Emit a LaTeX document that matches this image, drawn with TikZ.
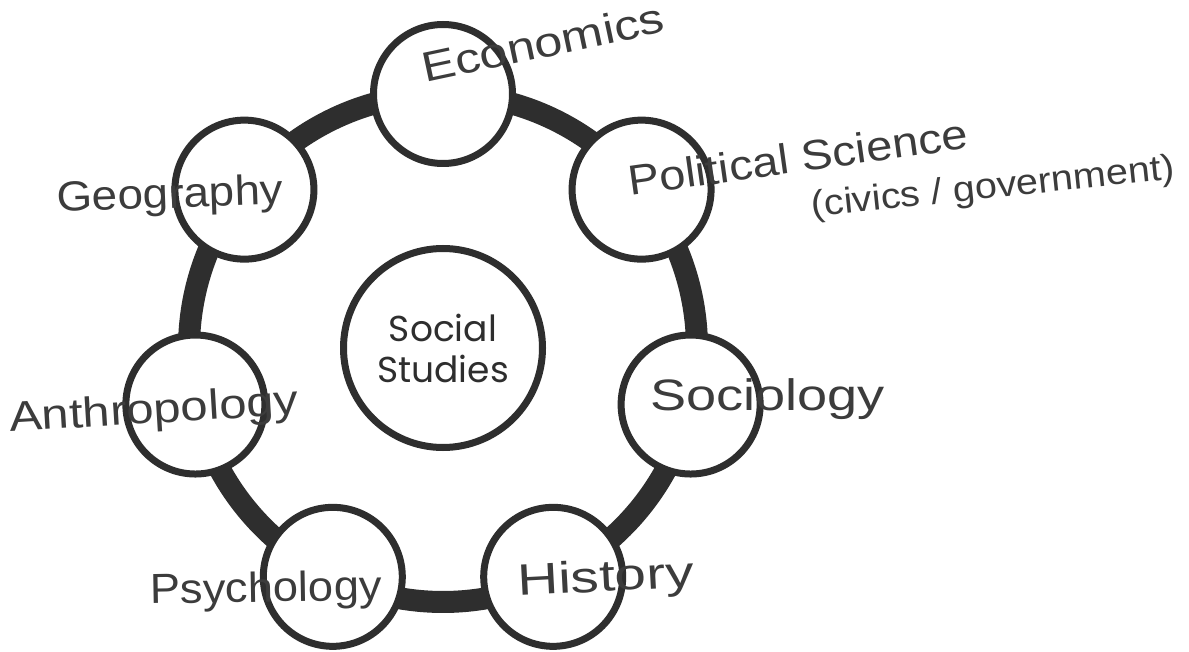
\documentclass[tikz,border=0pt]{standalone}
\usepackage{fontspec}
\setmainfont{Liberation Sans}
\newfontfamily\geofont{Poppins}
\usetikzlibrary{calc,backgrounds}
\definecolor{ink}{HTML}{2E2E2E}
\definecolor{pen}{HTML}{3C3C3C}
\begin{document}
\begin{tikzpicture}[x=1pt,y=-1pt,
  ring/.style={draw=ink, line width=22pt},
  topic/.style={circle, draw=ink, line width=7pt, fill=white, minimum size=139pt, inner sep=0pt},
  hub/.style={circle, draw=ink, line width=7pt, fill=white, minimum size=199pt, inner sep=0pt,
    font=\geofont\fontsize{36}{41}\selectfont, align=center, text=ink},
  hand/.style={anchor=base west, inner sep=0pt, text=pen, font=\fontsize{#1}{#1}\selectfont},
  hand/.default=42]
\path[use as bounding box] (0,0) rectangle (1189,652);
% hub and topics
\node[hub] (ss) at (443,348) {Social\\Studies};
\node[topic] (eco) at ($(ss.center)+(-90:254)$) {};
\node[topic] (pol) at ($(ss.center)+(-38.5714:254)$) {};
\node[topic] (soc) at ($(ss.center)+(12.8571:254)$) {};
\node[topic] (his) at ($(ss.center)+(64.2857:254)$) {};
\node[topic] (psy) at ($(ss.center)+(115.7143:254)$) {};
\node[topic] (ant) at ($(ss.center)+(167.1429:254)$) {};
\node[topic] (geo) at ($(ss.center)+(218.5714:254)$) {};
% ring connectors behind the circles
\begin{pgfonlayer}{background}
\fill[white] (0,0) rectangle (1189,652);
\draw[ring] (eco.center) arc[start angle=-90, end angle=-38.5714, radius=254];
\draw[ring] (pol.center) arc[start angle=-38.5714, end angle=12.8571, radius=254];
\draw[ring] (soc.center) arc[start angle=12.8571, end angle=64.2857, radius=254];
\draw[ring] (his.center) arc[start angle=64.2857, end angle=115.7143, radius=254];
\draw[ring] (psy.center) arc[start angle=115.7143, end angle=167.1429, radius=254];
\draw[ring] (ant.center) arc[start angle=167.1429, end angle=218.5714, radius=254];
\draw[ring] (geo.center) arc[start angle=218.5714, end angle=270, radius=254];
\end{pgfonlayer}
% handwritten labels
\node[hand, rotate=12, xscale=1.2] (leco) at (425,83) {Economics};
\node[hand, rotate=8, xscale=1.12] (lpol) at (630,196) {Political Science};
\node[hand=36, rotate=6, xscale=1.1] (lciv) at (812,217) {(civics / government)};
\node[hand=44, xscale=1.23] (lsoc) at (650,410) {Sociology};
\node[hand=44, rotate=3, xscale=1.29] (lhis) at (518,596) {History};
\node[hand, rotate=1, xscale=1.08] (lpsy) at (150,604) {Psychology};
\node[hand, rotate=3.5, xscale=1.17] (lant) at (10,432) {Anthropology};
\node[hand, rotate=2, xscale=1.09] (lgeo) at (57,212) {Geography};
\end{tikzpicture}
\end{document}
